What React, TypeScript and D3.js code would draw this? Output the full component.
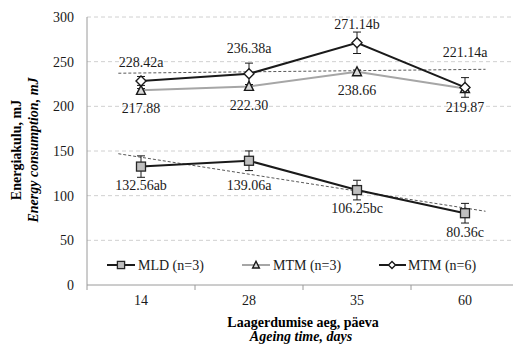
import React from "react";
import * as d3 from "d3";

const categories = ["14", "28", "35", "60"];
const mldValues = [132.56, 139.06, 106.25, 80.36];
const mldErrors = [12, 11, 11, 11];
const mldLabels = ["132.56ab", "139.06a", "106.25bc", "80.36c"];
const mtm3Values = [217.88, 222.3, 238.66, 219.87];
const mtm3Errors = [2, 2, 2, 2];
const mtm3Labels = ["217.88", "222.30", "238.66", "219.87"];
const mtm6Values = [228.42, 236.38, 271.14, 221.14];
const mtm6Errors = [5, 12, 12, 11];
const mtm6Labels = ["228.42a", "236.38a", "271.14b", "221.14a"];
const yTicks = [0, 50, 100, 150, 200, 250, 300];

const W = 513;
const H = 345;
const FONT = "Liberation Serif, Times New Roman, DejaVu Serif, serif";

const x = d3.scaleBand<string>().domain(categories).range([87, 519]).padding(0);
const y = d3.scaleLinear().domain([0, 300]).range([285, 17]);
const cx = (c: string) => (x(c) as number) + x.bandwidth() / 2;
// index (1-based) -> pixel, for trendlines
const xi = d3.scaleLinear().domain([1, 4]).range([cx(categories[0]), cx(categories[3])]);

function trend(values: number[]) {
  const xs = values.map((_, i) => i + 1);
  const mx = d3.mean(xs) as number;
  const my = d3.mean(values) as number;
  const slope =
    d3.sum(xs.map((xv, i) => (xv - mx) * (values[i] - my))) /
    d3.sum(xs.map((xv) => (xv - mx) ** 2));
  const f = (t: number) => my + slope * (t - mx);
  const t0 = 0.79;
  const t1 = 4.19;
  return { x1: xi(t0), y1: y(f(t0)), x2: xi(t1), y2: y(f(t1)) };
}

const line = d3
  .line<number>()
  .x((_, i) => cx(categories[i]))
  .y((v) => y(v));

type MP = { px: number; py: number; s?: number };

function Square({ px, py, s = 1 }: MP) {
  const h = 4.5 * s;
  return <rect x={px - h} y={py - h} width={2 * h} height={2 * h} fill="#bfbfbf" stroke="#262626" strokeWidth={1.3} />;
}
function Triangle({ px, py, s = 1 }: MP) {
  return (
    <path
      d={`M${px},${py - 5 * s}L${px + 4.5 * s},${py + 4 * s}L${px - 4.5 * s},${py + 4 * s}Z`}
      fill="#d9d9d9"
      stroke="#1a1a1a"
      strokeWidth={1.4}
    />
  );
}
function Diamond({ px, py, s = 1 }: MP) {
  const h = 5 * s;
  return (
    <path
      d={`M${px},${py - h}L${px + h},${py}L${px},${py + h}L${px - h},${py}Z`}
      fill="#ffffff"
      stroke="#1a1a1a"
      strokeWidth={1.4}
    />
  );
}

function ErrorBars({ values, errors }: { values: number[]; errors: number[] }) {
  return (
    <g stroke="#1a1a1a" strokeWidth={1}>
      {values.map((v, i) => {
        const px = cx(categories[i]);
        const top = y(v + errors[i]);
        const bot = y(v - errors[i]);
        return (
          <g key={i}>
            <line x1={px} x2={px} y1={top} y2={bot} />
            <line x1={px - 4} x2={px + 4} y1={top} y2={top} />
            <line x1={px - 4} x2={px + 4} y1={bot} y2={bot} />
          </g>
        );
      })}
    </g>
  );
}

const mldLabelPos = [190, 190, 213, 237];
const mtm3LabelPos = [113, 110, 95, 112];
const mtm6LabelPos = [67, 53, 29, 57];

const txt: React.CSSProperties = { fontFamily: FONT, fontSize: "14px" };

export default function App() {
  const trMld = trend(mldValues);
  const trMtm6 = trend(mtm6Values);
  const boundaries = d3.range(categories.length + 1).map((i) => 87 + i * x.bandwidth());
  return (
    <svg
      width={W}
      height={H}
      style={{ position: "absolute", left: 0, top: 0, background: "#fff", fontFamily: FONT }}
    >
      <rect width={W} height={H} fill="#fff" />
      {/* gridlines */}
      {yTicks.slice(1).map((t) => (
        <line key={t} x1={87} x2={W} y1={y(t)} y2={y(t)} stroke="#d0d0d0" strokeDasharray="4,3" strokeWidth={1} />
      ))}
      {/* axes */}
      <line x1={87} x2={87} y1={y(300)} y2={y(0)} stroke="#9a9a9a" strokeWidth={1} />
      <line x1={87} x2={W} y1={y(0)} y2={y(0)} stroke="#9a9a9a" strokeWidth={1} />
      {boundaries.map((b, i) => (
        <line key={i} x1={b} x2={b} y1={y(0)} y2={y(0) + 5} stroke="#9a9a9a" strokeWidth={1} />
      ))}
      {yTicks.map((t) => (
        <text key={t} x={74} y={y(t) + 5} textAnchor="end" style={txt} fill="#1a1a1a">
          {t}
        </text>
      ))}
      {categories.map((c) => (
        <text key={c} x={cx(c)} y={305} textAnchor="middle" style={txt} fill="#1a1a1a">
          {c}
        </text>
      ))}
      {/* trendlines */}
      <line {...trMld} stroke="#595959" strokeWidth={1} strokeDasharray="3,2" />
      <line {...trMtm6} stroke="#595959" strokeWidth={1} strokeDasharray="3,2" />
      {/* series lines */}
      <path d={line(mtm3Values) as string} fill="none" stroke="#a6a6a6" strokeWidth={2} />
      <path d={line(mldValues) as string} fill="none" stroke="#1a1a1a" strokeWidth={2} />
      <path d={line(mtm6Values) as string} fill="none" stroke="#1a1a1a" strokeWidth={2} />
      <ErrorBars values={mldValues} errors={mldErrors} />
      <ErrorBars values={mtm3Values} errors={mtm3Errors} />
      <ErrorBars values={mtm6Values} errors={mtm6Errors} />
      {mldValues.map((v, i) => (
        <Square key={i} px={cx(categories[i])} py={y(v)} />
      ))}
      {mtm3Values.map((v, i) => (
        <Triangle key={i} px={cx(categories[i])} py={y(v)} />
      ))}
      {mtm6Values.map((v, i) => (
        <Diamond key={i} px={cx(categories[i])} py={y(v)} />
      ))}
      {/* data labels */}
      {mldLabels.map((l, i) => (
        <text key={l} x={cx(categories[i])} y={mldLabelPos[i]} textAnchor="middle" style={txt} fill="#1a1a1a">
          {l}
        </text>
      ))}
      {mtm3Labels.map((l, i) => (
        <text key={l} x={cx(categories[i])} y={mtm3LabelPos[i]} textAnchor="middle" style={txt} fill="#1a1a1a">
          {l}
        </text>
      ))}
      {mtm6Labels.map((l, i) => (
        <text key={l} x={cx(categories[i])} y={mtm6LabelPos[i]} textAnchor="middle" style={txt} fill="#1a1a1a">
          {l}
        </text>
      ))}
      {/* legend */}
      <g fill="#1a1a1a">
        <line x1={107} x2={135} y1={265} y2={265} stroke="#1a1a1a" strokeWidth={2} />
        <Square px={121} py={265} s={0.8} />
        <text x={138} y={270} style={txt}>MLD (n=3)</text>
        <line x1={242} x2={270} y1={265} y2={265} stroke="#a6a6a6" strokeWidth={2} />
        <Triangle px={256} py={265} s={0.75} />
        <text x={273} y={270} style={txt}>MTM (n=3)</text>
        <line x1={379} x2={406} y1={265} y2={265} stroke="#1a1a1a" strokeWidth={2} />
        <Diamond px={392} py={265} s={0.7} />
        <text x={408} y={270} style={txt}>MTM (n=6)</text>
      </g>
      {/* axis titles */}
      <text x={303} y={327} textAnchor="middle" style={{ ...txt, fontWeight: "bold" }} fill="#000">
        Laagerdumise aeg, päeva
      </text>
      <text x={301} y={341} textAnchor="middle" style={{ ...txt, fontWeight: "bold", fontStyle: "italic" }} fill="#000">
        Ageing time, days
      </text>
      <text transform="translate(21,150) rotate(-90)" textAnchor="middle" style={{ ...txt, fontWeight: "bold" }} fill="#000">
        Energiakulu, mJ
      </text>
      <text
        transform="translate(38,150) rotate(-90)"
        textAnchor="middle"
        style={{ ...txt, fontWeight: "bold", fontStyle: "italic" }}
        fill="#000"
      >
        Energy consumption, mJ
      </text>
    </svg>
  );
}
